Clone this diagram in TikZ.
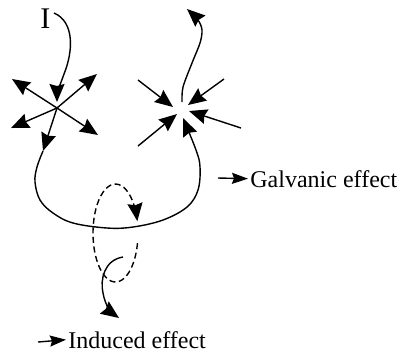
\documentclass[tikz,border=0pt]{standalone}
\usepackage{fontspec}
\setmainfont{Liberation Serif}
\usetikzlibrary{arrows.meta}

\begin{document}
\begin{tikzpicture}[
  x=0.5bp, y=-0.5bp,
  wire/.style={line width=0.7bp},
  dashwire/.style={wire,dash pattern=on 3bp off 1.8bp},
  lbl/.style={font=\fontsize{12bp}{14bp}\selectfont,inner sep=0pt,anchor=base west},
  pointer/.style={wire,-{Stealth[length=8bp,width=5.5bp,inset=1bp]}},
  >={Stealth[length=9bp,width=7.5bp,inset=1bp]}
]
\useasboundingbox (0,0) rectangle (398,352);
% labels
\node[lbl,font=\fontsize{15bp}{18bp}\selectfont] (curI) at (40,28) {I};
\node[lbl] (galv) at (250,187) {Galvanic effect};
\node[lbl] (ind) at (68,348) {Induced effect};
\coordinate (galvtail) at (218,178);
\coordinate (indtail) at (38,342);
\draw[pointer] (galvtail) -- ([xshift=-1bp]galv.west);
\draw[pointer] (indtail) -- ([xshift=-1bp]ind.west);
% current coming in
\coordinate (c1) at (57,108);
\coordinate (c2) at (182,111);
\draw[wire,->] (54,13) .. controls (75,22) and (73,52) .. (64,74) .. controls (60,85) and (57,94) .. (57,102);
% spreading at the left point
\foreach \p in {(12,79),(97,74),(11,128),(98,135)}
  \draw[wire,->] (c1) -- \p;
\draw[wire,->] (c1) -- (43,151);
% loop between the two points
\draw[wire,->] plot[smooth,tension=0.6] coordinates {(43,151) (37,167) (35,182) (40,200) (53,213) (73,223) (107,228) (133,227) (163,220) (187,207) (198,190) (200,167) (196,150) (183,118)};
% gathering at the right point
\draw[wire,->] (138,80) -- (173,107);
\draw[wire,->] (138,146) -- (177,114);
\draw[wire,->] (224,79) -- (188,105);
\draw[wire,->] (241,128) -- (189,111);
\draw[wire,->] plot[smooth] coordinates {(182,102) (183,87) (192,63) (200,43) (202,30) (198,20) (187,9)};
% induced field
\draw[dashwire,->] plot[smooth,domain=12:346,samples=50] ({115.5+22.5*cos(\x)},{233+49*sin(\x)});
\draw[wire,->] (123,257) .. controls (104,260) and (100,280) .. (103,293) .. controls (105,305) and (112,313) .. (119,318);
\end{tikzpicture}
\end{document}
